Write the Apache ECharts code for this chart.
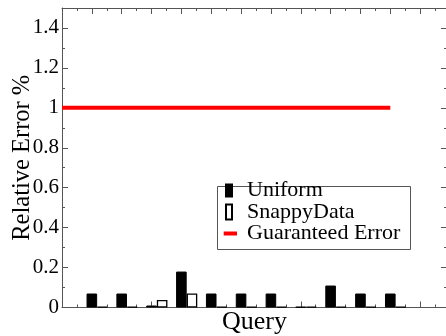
<!DOCTYPE html>
<html>
<head>
<meta charset="utf-8">
<script src="https://cdn.jsdelivr.net/npm/echarts@6/dist/echarts.min.js"></script>
<style>
html,body{margin:0;padding:0;background:#fff;}
#c{width:446px;height:336px;}
</style>
</head>
<body>
<div id="c"></div>
<script>
// ---- data ----
var queries = [1, 2, 3, 4, 5, 6, 7, 8, 9, 10, 11];
var uniformValues = [0.07, 0.07, 0.01, 0.18, 0.07, 0.07, 0.07, 0.003, 0.11, 0.07, 0.07];
var snappyValues = [0.003, 0.003, 0.038, 0.07, 0.003, 0.003, 0.003, 0.003, 0.003, 0.003, 0.003];
var guaranteedRange = [0, 11];
var guaranteedError = 1;
var yTickLabels = ['0', '0.2', '0.4', '0.6', '0.8', '1', '1.2', '1.4'];
var seriesNames = ['Uniform', 'SnappyData', 'Guaranteed Error'];
var xTitle = 'Query';
var yTitle = 'Relative Error %';

// ---- build ----
var FONT = 'Liberation Serif';
var AX = '#555';
var xMin = 0, xMax = 12.9, barShift = 0.355;

function pairs(xs, ys) { return xs.map(function (x, i) { return [x, ys[i]]; }); }

var frameAxisX = function (pos) {
  return {
    type: 'value', position: pos, min: xMin, max: xMax, interval: 1,
    axisLine: { show: true, onZero: false, lineStyle: { color: AX, width: 1 } },
    axisTick: { show: true, inside: true, length: 6, lineStyle: { color: AX } },
    minorTick: { show: true, splitNumber: 2, length: 3, lineStyle: { color: AX } },
    axisLabel: { show: false },
    splitLine: { show: false }, minorSplitLine: { show: false }
  };
};
var frameAxisY = function (pos) {
  return {
    type: 'value', position: pos, min: 0, max: 1.5, interval: 0.2,
    axisLine: { show: true, onZero: false, lineStyle: { color: AX, width: 1 } },
    axisTick: { show: true, inside: true, length: 6, lineStyle: { color: AX } },
    minorTick: { show: true, splitNumber: 2, length: 3, lineStyle: { color: AX } },
    axisLabel: { show: false },
    splitLine: { show: false }, minorSplitLine: { show: false }
  };
};

var xBottom = frameAxisX('bottom');
xBottom.name = xTitle;
xBottom.nameLocation = 'middle';
xBottom.nameGap = 2;
xBottom.nameMoveOverlap = false;
xBottom.nameTextStyle = { fontFamily: FONT, fontSize: 26, color: '#000', verticalAlign: 'top' };
var xTop = frameAxisX('top');
var xShift = { type: 'value', show: false, min: xMin - barShift, max: xMax - barShift };

var yLeft = frameAxisY('left');
yLeft.axisLabel = {
  show: true, margin: 3, showMaxLabel: false,
  fontFamily: FONT, fontSize: 21, color: '#000',
  formatter: function (v) { var i = Math.round(v / 0.2); return yTickLabels[i] !== undefined ? yTickLabels[i] : ''; }
};
yLeft.name = yTitle;
yLeft.nameLocation = 'middle';
yLeft.nameRotate = 90;
yLeft.nameGap = 27;
yLeft.nameMoveOverlap = false;
yLeft.nameTextStyle = { fontFamily: FONT, fontSize: 24.5, color: '#000' };
var yRight = frameAxisY('right');

var option = {
  animation: false,
  backgroundColor: '#fff',
  grid: { left: 62, right: -1, top: 8, bottom: 28.5, containLabel: false, outerBoundsMode: 'none' },
  xAxis: [xBottom, xTop, xShift],
  yAxis: [yLeft, yRight],
  legend: {
    orient: 'vertical', left: 222, top: 179.5, padding: 0,
    itemWidth: 19, itemHeight: 16, itemGap: -0.5,
    textStyle: { fontFamily: FONT, fontSize: 22, color: '#000' },
    data: [
      { name: seriesNames[0], icon: 'path://M0,0M19,16M3,2L9,2L9,14L3,14Z' },
      { name: seriesNames[1], icon: 'path://M0,0M19,16M3,0.5L9,0.5L9,15.5L3,15.5Z' },
      { name: seriesNames[2], icon: 'path://M0,0M19,16M0.7,6L14,6L14,10L0.7,10Z', itemStyle: { borderWidth: 0 } }
    ]
  },
  graphic: [{
    type: 'rect', left: 215, top: 184, silent: true,
    shape: { width: 193, height: 63 },
    style: { fill: 'none', stroke: '#555', lineWidth: 1 }
  }],
  series: [
    {
      name: seriesNames[0], type: 'bar', xAxisIndex: 0, yAxisIndex: 0,
      barWidth: 10.6,
      itemStyle: { color: '#000', borderColor: '#000', borderWidth: 1 },
      data: pairs(queries, uniformValues)
    },
    {
      name: seriesNames[1], type: 'bar', xAxisIndex: 2, yAxisIndex: 0,
      barWidth: 10.6,
      itemStyle: { color: '#fff', borderColor: '#000', borderWidth: 1.3 },
      data: pairs(queries, snappyValues)
    },
    {
      name: seriesNames[2], type: 'line', xAxisIndex: 0, yAxisIndex: 0,
      symbol: 'none',
      itemStyle: { color: '#ff0000' },
      lineStyle: { color: '#ff0000', width: 4 },
      data: guaranteedRange.map(function (x) { return [x, guaranteedError]; })
    }
  ]
};
var chart = echarts.init(document.getElementById('c'), null, { renderer: 'canvas' });
chart.setOption(option);
</script>
</body>
</html>
